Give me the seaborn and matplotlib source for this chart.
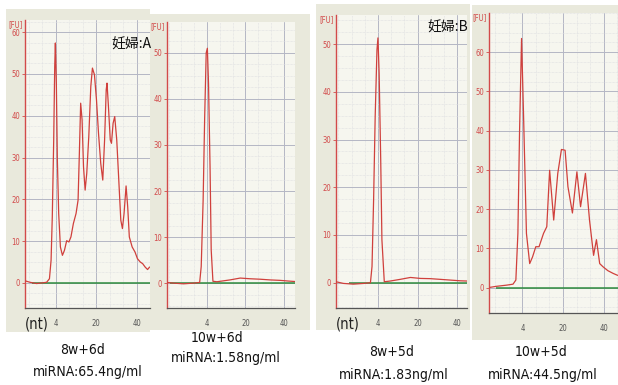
import matplotlib
matplotlib.use("Agg")
import matplotlib.pyplot as plt
import seaborn as sns
import pandas as pd
from matplotlib.patches import Rectangle
from matplotlib.ticker import MultipleLocator, FixedLocator

sns.set_theme(style="white")
plt.rcParams["font.family"] = ["DejaVu Sans"]
plt.rcParams["font.stretch"] = "condensed"

W, H = 618, 385

# x: ladder grid position (4 nt = 1, 20 nt = 2, 40 nt = 3), y: fluorescence [FU]
a1_x = [0.25, 0.37, 0.535, 0.66, 0.78, 0.85, 0.89, 0.92, 0.955, 0.98, 0.996, 1.02, 1.045, 1.078,
        1.12, 1.17, 1.22, 1.275, 1.33, 1.38, 1.44, 1.506, 1.556, 1.59, 1.62, 1.655, 1.69, 1.73,
        1.77, 1.82, 1.87, 1.91, 1.96, 2.01, 2.06, 2.115, 2.165, 2.21, 2.25, 2.27, 2.305, 2.35,
        2.38, 2.42, 2.46, 2.51, 2.56, 2.61, 2.65, 2.69, 2.74, 2.78, 2.82, 2.89, 2.96, 3.02, 3.09,
        3.15, 3.21, 3.27, 3.32]
a1_y = [0.5, 0.15, -0.15, 0.0, 0.15, 1.0, 5.4, 15.8, 34.2, 51.8, 57.4, 47.8, 29.4, 16.6,
        8.6, 6.6, 7.8, 10.1, 9.8, 11.0, 14.2, 16.6, 19.8, 31.8, 43.0, 39.0, 27.8, 22.2,
        26.2, 35.0, 47.0, 51.4, 49.8, 43.8, 35.8, 28.6, 24.6, 34.2, 46.2, 47.8, 42.2, 34.2,
        33.4, 38.2, 39.8, 34.2, 24.6, 15.0, 13.0, 16.6, 23.2, 18.2, 11.0, 8.6, 7.4, 5.8, 5.0,
        4.6, 3.8, 3.2, 3.8]

a2_x = [-0.04, 0.13, 0.39, 0.65, 0.81, 0.85, 0.90, 0.94, 0.98, 1.01, 1.04, 1.08, 1.11, 1.155,
        1.26, 1.43, 1.6, 1.865, 2.12, 2.38, 2.64, 2.9, 3.12, 3.29]
a2_y = [0.15, 0.0, -0.15, 0.0, 0.15, 3.6, 18.0, 36.0, 50.0, 51.0, 43.4, 25.3, 7.2, 0.4,
        0.3, 0.5, 0.7, 1.1, 0.95, 0.85, 0.7, 0.6, 0.45, 0.35]

b1_x = [-0.06, 0.13, 0.38, 0.64, 0.81, 0.85, 0.89, 0.93, 0.975, 1.0, 1.03, 1.07, 1.10, 1.16,
        1.31, 1.56, 1.82, 2.07, 2.32, 2.58, 2.83, 3.08, 3.25]
b1_y = [0.2, -0.15, -0.3, -0.15, 0.0, 3.4, 17.3, 34.8, 48.8, 51.3, 43.9, 25.7, 9.0, 0.2,
        0.35, 0.7, 1.1, 0.9, 0.85, 0.7, 0.55, 0.4, 0.35]

b2_x = [0.18, 0.36, 0.61, 0.77, 0.84, 0.89, 0.93, 0.98, 1.03, 1.10, 1.18, 1.25, 1.33, 1.41,
        1.52, 1.60, 1.67, 1.77, 1.87, 1.96, 2.05, 2.12, 2.23, 2.34, 2.43, 2.55, 2.65, 2.75,
        2.82, 2.90, 2.98, 3.10, 3.23, 3.34]
b2_y = [0.0, 0.3, 0.6, 0.85, 1.9, 13.8, 39.3, 63.5, 43.5, 13.8, 6.1, 7.8, 10.4, 10.4,
        13.8, 15.5, 29.9, 17.2, 29.1, 35.2, 35.0, 25.7, 19.0, 29.5, 20.6, 29.1, 17.2, 8.2,
        12.2, 6.1, 5.3, 4.3, 3.6, 3.1]

x_tick_pos = [1, 2, 3]
x_tick_labels = ["4", "20", "40"]

subjects = ["妊婦:A", "妊婦:B"]
weeks = ["8w+6d", "10w+6d", "8w+5d", "10w+5d"]
mirna = ["miRNA:65.4ng/ml", "miRNA:1.58ng/ml", "miRNA:1.83ng/ml", "miRNA:44.5ng/ml"]

# layout in pixels of the source picture
panels = [
    dict(x=a1_x, y=a1_y, box=(25, 20, 150, 308), xlim=(0.247, 3.33), ylim=(-6.0, 62.9),
         ymax=60, green=0.41, frame=(6, 9, 150, 332), nt=True,
         week_pos=(83, 350), mirna_pos=(88, 372)),
    dict(x=a2_x, y=a2_y, box=(167, 22, 295, 308), xlim=(-0.04, 3.29), ylim=(-5.4, 56.7),
         ymax=50, green=0.05, frame=(150, 14, 310, 330), nt=False,
         week_pos=(217, 338), mirna_pos=(226, 358)),
    dict(x=b1_x, y=b1_y, box=(336, 15, 467, 308), xlim=(-0.06, 3.25), ylim=(-5.3, 56.1),
         ymax=50, green=0.27, frame=(316, 4, 470, 330), nt=True,
         week_pos=(392, 352), mirna_pos=(394, 375)),
    dict(x=b2_x, y=b2_y, box=(489, 13, 618, 313), xlim=(0.18, 3.35), ylim=(-6.5, 70.0),
         ymax=60, green=0.36, frame=(472, 5, 618, 340), nt=False,
         week_pos=(541, 352), mirna_pos=(543, 375)),
]

red = "#d24a4a"
fig = plt.figure(figsize=(W / 100, H / 100), dpi=100)
fig.patch.set_facecolor("white")

for i, p in enumerate(panels):
    fx0, fy0, fx1, fy1 = p["frame"]
    fig.patches.append(Rectangle((fx0 / W, 1 - fy1 / H), (fx1 - fx0) / W, (fy1 - fy0) / H,
                                 transform=fig.transFigure, facecolor="#e9e9dc",
                                 edgecolor="none", zorder=-5))
    l, t, r, b = p["box"]
    ax = fig.add_axes([l / W, 1 - b / H, (r - l) / W, (b - t) / H])
    ax.set_zorder(1)
    ax.set_facecolor("#f6f6ef")

    ax.set_xlim(*p["xlim"])
    ax.set_ylim(*p["ylim"])
    ax.xaxis.set_major_locator(FixedLocator(x_tick_pos))
    ax.xaxis.set_minor_locator(MultipleLocator(1 / 3))
    ax.yaxis.set_major_locator(FixedLocator(list(range(0, p["ymax"] + 1, 10))))
    ax.yaxis.set_minor_locator(MultipleLocator(2.5))
    ax.grid(which="major", color="#b4b7c4", linewidth=0.7)
    ax.grid(which="minor", color="#dcdde0", linewidth=0.5, linestyle=(0, (1, 1)))
    ax.set_axisbelow(True)

    ax.hlines(0, p["green"], p["xlim"][1], color="#2e8b3e", linewidth=1.1, zorder=2)

    df = pd.DataFrame({"pos": p["x"], "fu": p["y"]})
    sns.lineplot(data=df, x="pos", y="fu", ax=ax, sort=False, estimator=None,
                 color="#d0403c", linewidth=0.9, zorder=3)
    ax.set_xlabel("")
    ax.set_ylabel("")

    ax.set_xticklabels(x_tick_labels)
    ax.tick_params(axis="x", which="major", length=2, width=0.6, color="#555555",
                   labelsize=5.5, labelcolor="#555555", pad=6)
    ax.tick_params(axis="x", which="minor", length=0)
    ax.tick_params(axis="y", which="major", length=2.5, width=0.6, color=red,
                   labelsize=5.5, labelcolor=red, pad=1, left=True)
    ax.tick_params(axis="y", which="minor", length=0)

    for s in ["top", "right"]:
        ax.spines[s].set_visible(False)
    ax.spines["left"].set_color(red)
    ax.spines["left"].set_linewidth(1.0)
    ax.spines["bottom"].set_color("#555555")
    ax.spines["bottom"].set_linewidth(0.9)

    ax.text(-0.02, 1.0, "[FU]", transform=ax.transAxes, ha="right", va="top",
            fontsize=5.5, color=red)
    if p["nt"]:
        ax.text(0.0, -0.03, "(nt)", transform=ax.transAxes, ha="left", va="top",
                fontsize=10.5, color="#222222")

    fig.text(p["week_pos"][0] / W, 1 - p["week_pos"][1] / H, weeks[i],
             ha="center", va="center", fontsize=10, color="#111111")
    fig.text(p["mirna_pos"][0] / W, 1 - p["mirna_pos"][1] / H, mirna[i],
             ha="center", va="center", fontsize=10, color="#111111")

for k, (sx, sy) in enumerate([(131, 45), (448, 28)]):
    fig.text(sx / W, 1 - sy / H, subjects[k], ha="center", va="center", fontsize=10,
             family=["Noto Sans CJK JP", "DejaVu Sans"], color="#111111", zorder=5)

fig.savefig("out.png", dpi=100)
